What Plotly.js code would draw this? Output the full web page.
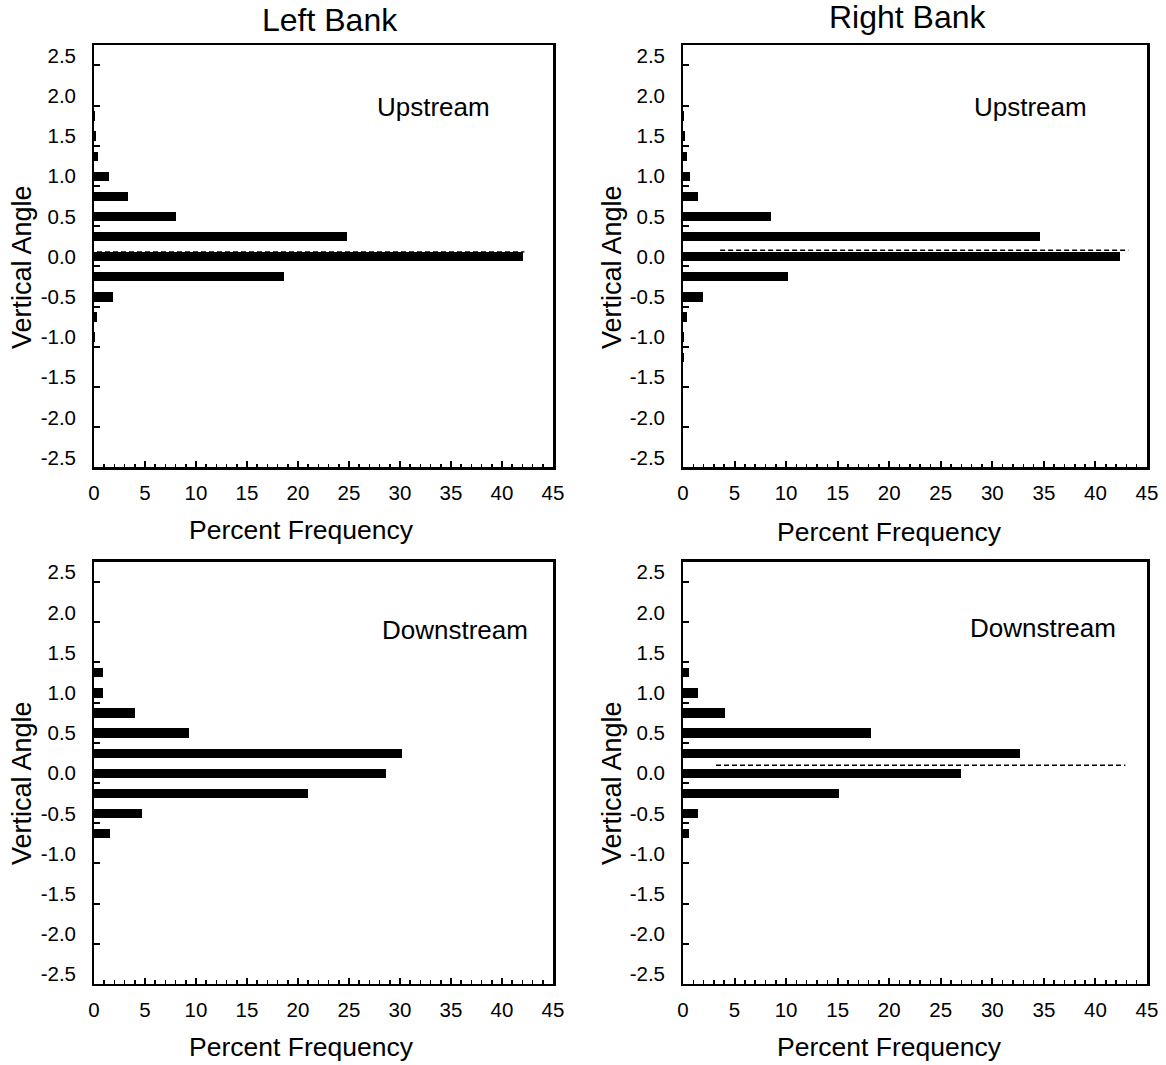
<!DOCTYPE html>
<html>
<head>
<meta charset="utf-8">
<script src="https://cdn.plot.ly/plotly-3.0.1.min.js"></script>
<style>
html,body{margin:0;padding:0;background:#fff;}
#chart{width:1166px;height:1065px;}
</style>
</head>
<body>
<div id="chart"></div>
<script>
// ---- data ----
const angles = [1.75, 1.5, 1.25, 1.0, 0.75, 0.5, 0.25, 0.0, -0.25, -0.5, -0.75, -1.0, -1.25];
const leftUpstream    = [0.05, 0.15, 0.4, 1.45, 3.3, 8.0, 24.8, 42.1, 18.6, 1.9, 0.3, 0.05, 0];
const rightUpstream   = [0.05, 0.15, 0.35, 0.65, 1.5, 8.5, 34.6, 42.4, 10.2, 1.95, 0.4, 0.1, 0.05];
const leftDownstream  = [0, 0, 0.9, 0.9, 4.0, 9.3, 30.2, 28.6, 21.0, 4.7, 1.6, 0, 0];
const rightDownstream = [0, 0, 0.55, 1.45, 4.1, 18.2, 32.7, 27.0, 15.1, 1.45, 0.55, 0, 0];

// dashed reference lines: [y, xStart, xEnd] per panel (null = none)
const meanLines = [[0.06, 0.3, 42.2], [0.08, 3.6, 43.2], null, [0.1, 3.2, 42.9]];

const panelNames = ["Upstream", "Upstream", "Downstream", "Downstream"];
const bankTitles = ["Left Bank", "Right Bank"];
const yTickLabels = ["2.5", "2.0", "1.5", "1.0", "0.5", "0.0", "-0.5", "-1.0", "-1.5", "-2.0", "-2.5"];
const xTickValues = [0, 5, 10, 15, 20, 25, 30, 35, 40, 45];
const xTitle = "Percent Frequency";
const yTitle = "Vertical Angle";

// ---- layout geometry ----
const W = 1166, H = 1065;
const FONT = "Liberation Sans, Arial, sans-serif";
const px = v => v / W;
const py = v => 1 - v / H;

const xDomains = [[px(94), px(553)], [px(683), px(1147)]];
const yDomains = [[py(467), py(45)], [py(983.6), py(561.6)]];
const yRange = [-2.616, 2.633];
const tickOffset = -0.12;            // tick marks sit at bin edges, labels at bin centres
const yValsNum = yTickLabels.map(Number);

const series = [leftUpstream, rightUpstream, leftDownstream, rightDownstream];
const data = [];
const layout = {
  width: W, height: H,
  margin: {l: 0, r: 0, t: 0, b: 0},
  paper_bgcolor: "#fff", plot_bgcolor: "#fff",
  showlegend: false,
  font: {family: FONT, color: "#000"},
  annotations: [],
  bargap: 0
};

for (let i = 0; i < 4; i++) {
  const col = i % 2, row = Math.floor(i / 2);
  const xa = "x" + (i ? i + 1 : ""), ya = "y" + (i ? i + 1 : "");
  const xk = "xaxis" + (i ? i + 1 : ""), yk = "yaxis" + (i ? i + 1 : "");
  const yLabK = "yaxis" + (i + 5);
  data.push({
    type: "bar", orientation: "h",
    x: series[i], y: angles,
    width: 0.115,
    marker: {color: "#000", line: {width: 0}},
    xaxis: xa, yaxis: ya, hoverinfo: "x+y"
  });
  const ml = meanLines[i];
  if (ml) {
    data.push({
      type: "scatter", mode: "lines",
      x: [ml[1], ml[2]], y: [ml[0], ml[0]],
      line: {color: "#000", width: 1.3, dash: "5px,3px"},
      xaxis: xa, yaxis: ya, hoverinfo: "skip"
    });
  }
  layout[xk] = {
    domain: xDomains[col], anchor: ya,
    range: [0, 45], fixedrange: true,
    tickvals: xTickValues, ticktext: xTickValues.map(String),
    ticks: "inside", ticklen: 6, tickwidth: 2, tickcolor: "#000",
    minor: {dtick: 1, tick0: 0, ticks: "inside", ticklen: 3.5, tickwidth: 1.5, tickcolor: "#000", showgrid: false},
    showline: true, linewidth: 2.5, linecolor: "#000", mirror: true,
    showgrid: false, zeroline: false,
    tickfont: {family: FONT, size: 20.5, color: "#000"},
    ticklabelstandoff: 6
  };
  // base y axis: frame line and tick marks at bin edges
  layout[yk] = {
    domain: yDomains[row], anchor: xa,
    range: yRange, fixedrange: true,
    tickvals: yValsNum.map(v => v + tickOffset),
    showticklabels: false,
    ticks: "inside", ticklen: 6, tickwidth: 2, tickcolor: "#000",
    showline: true, linewidth: 2.5, linecolor: "#000", mirror: true,
    showgrid: false, zeroline: false
  };
  // overlaid y axis carrying the labels at the bin centres
  layout[yLabK] = {
    overlaying: ya, anchor: xa, side: "left",
    range: yRange, fixedrange: true,
    tickvals: yValsNum, ticktext: yTickLabels,
    ticks: "", showline: false, showgrid: false, zeroline: false,
    tickfont: {family: FONT, size: 20.5, color: "#000"},
    ticklabelstandoff: 17
  };
  // invisible trace so the overlay axis is drawn
  data.push({
    type: "scatter", mode: "markers", x: [null], y: [null],
    xaxis: xa, yaxis: "y" + (i + 5), hoverinfo: "skip", showlegend: false
  });
  // panel label
  const labelPos = [[433.5, 107], [1030, 107], [455, 630], [1043, 628]][i];
  layout.annotations.push({
    xref: "paper", yref: "paper", x: px(labelPos[0]), y: py(labelPos[1]),
    xanchor: "center", yanchor: "middle", showarrow: false,
    text: panelNames[i], font: {family: FONT, size: 26, color: "#000"}
  });
  // axis titles
  const xt = [[301.5, 530], [889.5, 532], [301.5, 1047], [889.5, 1047]][i];
  layout.annotations.push({
    xref: "paper", yref: "paper", x: px(xt[0]), y: py(xt[1]),
    xanchor: "center", yanchor: "middle", showarrow: false,
    text: xTitle, font: {family: FONT, size: 26.5, color: "#000"}
  });
  const yt = [[22, 267], [612, 267], [22, 783], [612, 783]][i];
  layout.annotations.push({
    xref: "paper", yref: "paper", x: px(yt[0]), y: py(yt[1]),
    xanchor: "center", yanchor: "middle", showarrow: false, textangle: -90,
    text: yTitle, font: {family: FONT, size: 27, color: "#000"}
  });
}
// bank titles
[[330, 20], [908, 17]].forEach((p, k) => {
  layout.annotations.push({
    xref: "paper", yref: "paper", x: px(p[0]), y: py(p[1]),
    xanchor: "center", yanchor: "middle", showarrow: false,
    text: bankTitles[k], font: {family: FONT, size: 32, color: "#000"}
  });
});

Plotly.newPlot("chart", data, layout, {displayModeBar: false, staticPlot: true});
</script>
</body>
</html>
